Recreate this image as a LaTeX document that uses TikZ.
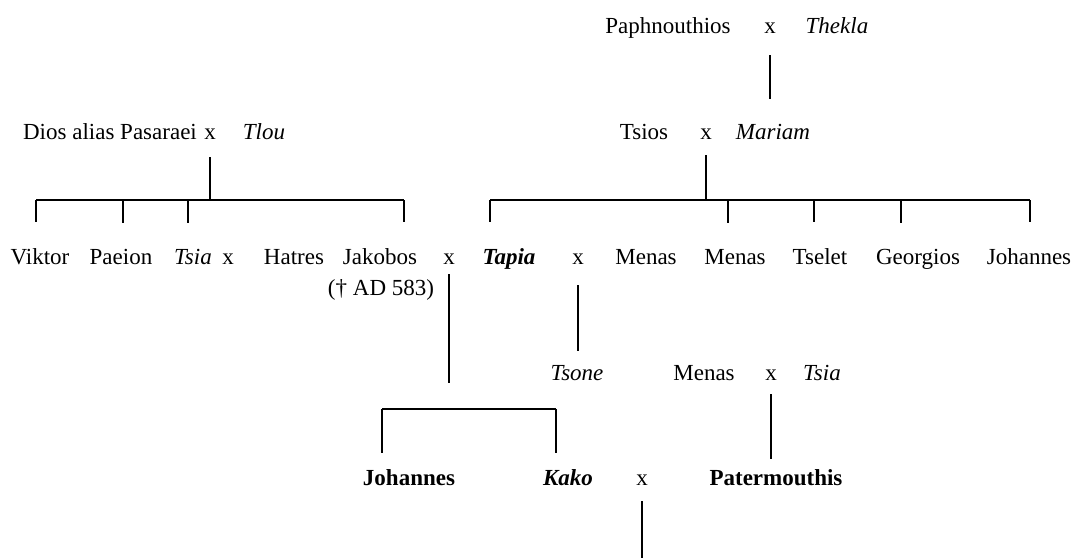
\documentclass[tikz,border=0pt]{standalone}
\usepackage{fontspec}
\setmainfont{Liberation Serif}

\begin{document}
\begin{tikzpicture}[x=1pt,y=-1pt,
  every node/.style={inner sep=0pt,anchor=base,font=\fontsize{23}{27}\selectfont},
  wife/.style={font=\fontsize{23}{27}\selectfont\itshape},
  heir/.style={font=\fontsize{23}{27}\selectfont\bfseries},
  heiress/.style={font=\fontsize{23}{27}\selectfont\bfseries\itshape},
  tree/.style={line width=1.3pt}]
\useasboundingbox (0,0) rectangle (1079,558);
% first generation
\node (paph) at (668,33) {Paphnouthios};
\node (pmx) at (770,33) {x};
\node[wife] (thekla) at (837,33) {Thekla};
% second generation
\node (dios) at (110,139) {Dios alias Pasaraei};
\node (dmx) at (210,139) {x};
\node[wife] (tlou) at (264,139) {Tlou};
\node (tsios) at (644,139) {Tsios};
\node (tmx) at (706,139) {x};
\node[wife] (mariam) at (773,139) {Mariam};
% third generation
\node (viktor) at (40,264) {Viktor};
\node (paeion) at (121,264) {Paeion};
\node[wife] (tsiaA) at (193,264) {Tsia};
\node (hmx) at (228,264) {x};
\node (hatres) at (294,264) {Hatres};
\node (jakobos) at (380,264) {Jakobos};
\node (jakdate) at (381,295) {(† AD 583)};
\node (jmx) at (449,264) {x};
\node[heiress] (tapia) at (509,264) {Tapia};
\node (tpx) at (578,264) {x};
\node (menasA) at (646,264) {Menas};
\node (menasB) at (735,264) {Menas};
\node (tselet) at (820,264) {Tselet};
\node (georgios) at (918,264) {Georgios};
\node (johannesA) at (1029,264) {Johannes};
% fourth generation
\node[wife] (tsone) at (577,380) {Tsone};
\node (menasC) at (704,380) {Menas};
\node (mmx) at (771,380) {x};
\node[wife] (tsiaB) at (822,380) {Tsia};
% fifth generation
\node[heir] (johannesB) at (409,485) {Johannes};
\node[heiress] (kako) at (568,485) {Kako};
\node (kmx) at (642,485) {x};
\node[heir] (pater) at (776,485) {Patermouthis};
% bracket corners
\coordinate (lb1) at (36,200);
\coordinate (lb2) at (123,200);
\coordinate (lb3) at (188,200);
\coordinate (lb4) at (404,200);
\coordinate (rb1) at (490,200);
\coordinate (rb2) at (728,200);
\coordinate (rb3) at (814,200);
\coordinate (rb4) at (901,200);
\coordinate (rb5) at (1030,200);
\coordinate (cb1) at (382,409);
\coordinate (cb2) at (556,409);
\coordinate (issue) at (642,558);
% lines of descent
\draw[tree,shorten <=22pt,shorten >=25pt] (pmx.base) -- (pmx.base |- mariam.north);
\draw[tree,shorten <=18pt] (dmx.base) -- (dmx.base |- lb1);
\draw[tree] (lb1) -- (lb4);
\draw[tree,shorten >=26pt] (lb1) -- (lb1 |- viktor.north);
\draw[tree,shorten >=26pt] (lb2) -- (lb2 |- paeion.north);
\draw[tree,shorten >=26pt] (lb3) -- (lb3 |- tsiaA.north);
\draw[tree,shorten >=26pt] (lb4) -- (lb4 |- jakobos.north);
\draw[tree,shorten <=16pt] (tmx.base) -- (tmx.base |- rb1);
\draw[tree] (rb1) -- (rb5);
\draw[tree,shorten >=26pt] (rb1) -- (rb1 |- tapia.north);
\draw[tree,shorten >=26pt] (rb2) -- (rb2 |- menasB.north);
\draw[tree,shorten >=26pt] (rb3) -- (rb3 |- tselet.north);
\draw[tree,shorten >=26pt] (rb4) -- (rb4 |- georgios.north);
\draw[tree,shorten >=26pt] (rb5) -- (rb5 |- johannesA.north);
\draw[tree,shorten <=10pt,shorten >=26pt] (jmx.base) -- (jmx.base |- cb1);
\draw[tree] (cb1) -- (cb2);
\draw[tree,shorten >=16pt] (cb1) -- (cb1 |- johannesB.north);
\draw[tree,shorten >=16pt] (cb2) -- (cb2 |- kako.north);
\draw[tree,shorten <=21pt,shorten >=14pt] (tpx.base) -- (tpx.base |- tsone.north);
\draw[tree,shorten <=14pt,shorten >=10pt] (mmx.base) -- (mmx.base |- pater.north);
\draw[tree,shorten <=16pt] (kmx.base) -- (issue);
\end{tikzpicture}
\end{document}
